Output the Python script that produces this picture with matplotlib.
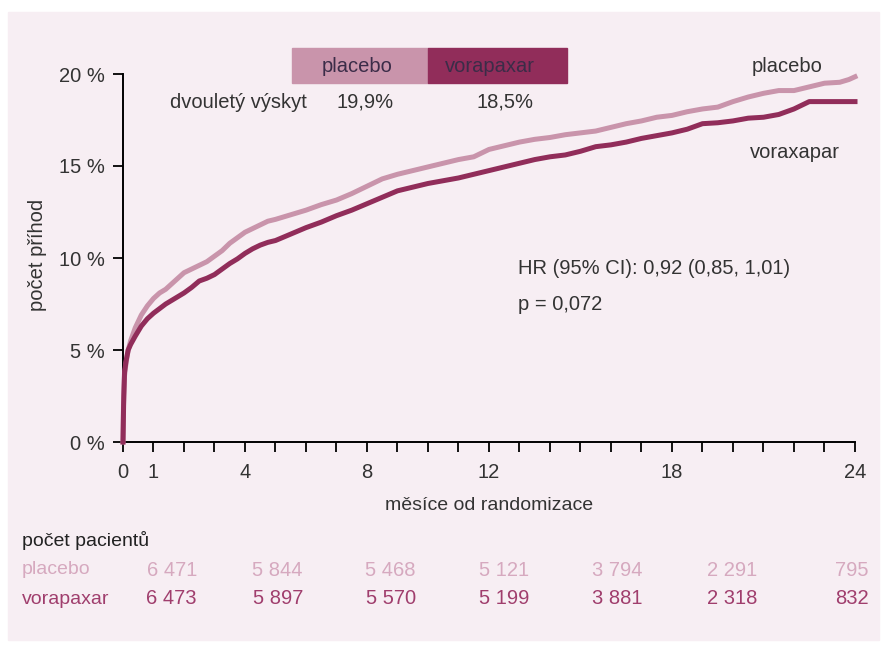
"""
Kaplan-Meier style curves: vorapaxar vs placebo, 24 months.
"""

import matplotlib
matplotlib.use("Agg")
import matplotlib.pyplot as plt
from matplotlib.patches import Rectangle

plt.rcParams["font.family"] = ["Liberation Sans", "DejaVu Sans"]

# --- data --------------------------------------------------------------
months = [0, 0.02, 0.05, 0.1, 0.17, 0.25, 0.4, 0.6, 0.8, 1.0,
          1.2, 1.4, 1.6, 1.8, 2.0, 2.25, 2.5, 2.75, 3.0, 3.25,
          3.5, 3.75, 4.0, 4.25, 4.5, 4.75, 5.0, 5.5, 6.0, 6.5,
          7.0, 7.5, 8.0, 8.5, 9.0, 9.5, 10.0, 10.5, 11.0, 11.5,
          12.0, 12.5, 13.0, 13.5, 14.0, 14.5, 15.0, 15.5, 16.0, 16.5,
          17.0, 17.5, 18.0, 18.5, 19.0, 19.5, 20.0, 20.5, 21.0, 21.5,
          22.0, 22.5, 23.0, 23.5, 23.8, 24.0]

placebo = [0, 2.5, 3.6, 4.3, 5.0, 5.5, 6.2, 6.9, 7.4, 7.8,
           8.1, 8.3, 8.6, 8.9, 9.2, 9.4, 9.6, 9.8, 10.1, 10.4,
           10.8, 11.1, 11.4, 11.6, 11.8, 12.0, 12.1, 12.35, 12.6, 12.9,
           13.15, 13.5, 13.9, 14.3, 14.55, 14.75, 14.95, 15.15, 15.35, 15.5,
           15.9, 16.1, 16.3, 16.45, 16.55, 16.7, 16.8, 16.9, 17.1, 17.3,
           17.45, 17.65, 17.75, 17.95, 18.1, 18.2, 18.5, 18.75, 18.95, 19.1,
           19.1, 19.3, 19.5, 19.55, 19.7, 19.85]

vorapaxar = [0, 2.0, 3.8, 4.4, 5.0, 5.3, 5.75, 6.3, 6.7, 7.0,
             7.25, 7.5, 7.7, 7.9, 8.1, 8.4, 8.75, 8.9, 9.1, 9.4,
             9.7, 9.95, 10.25, 10.5, 10.7, 10.85, 10.95, 11.3, 11.65, 11.95,
             12.3, 12.6, 12.95, 13.3, 13.65, 13.85, 14.05, 14.2, 14.35, 14.55,
             14.75, 14.95, 15.15, 15.35, 15.5, 15.6, 15.8, 16.05, 16.15, 16.3,
             16.5, 16.65, 16.8, 17.0, 17.3, 17.35, 17.45, 17.6, 17.65, 17.8,
             18.1, 18.5, 18.5, 18.5, 18.5, 18.5]

xtick_labels = [0, 1, 4, 8, 12, 18, 24]
ytick_values = [0, 5, 10, 15, 20]

two_year = {"placebo": "19,9%", "vorapaxar": "18,5%"}

at_risk_placebo = ["6 471", "5 844", "5 468", "5 121", "3 794", "2 291", "795"]
at_risk_vorapaxar = ["6 473", "5 897", "5 570", "5 199", "3 881", "2 318", "832"]

# --- styling -----------------------------------------------------------
BG = "#f7eef3"
C_PLA = "#c994ab"
C_VOR = "#912d5a"
TXT = "#333333"
LEG_TXT = "#3b2c48"
FS = 14.5

W, H = 887, 646
fig = plt.figure(figsize=(W / 100, H / 100), dpi=100, facecolor="white")


def fx(px):
    return px / W


def fy(py):
    return 1 - py / H


fig.patches.append(Rectangle((fx(8), fy(640)), fx(871), 628 / H,
                             transform=fig.transFigure, color=BG, zorder=-10))

ax = fig.add_axes([fx(123), fy(442), fx(855 - 123), (442 - 74) / H])
ax.set_facecolor("none")

ax.plot(months, placebo, color=C_PLA, lw=3.6, clip_on=False, zorder=3)
ax.plot(months, vorapaxar, color=C_VOR, lw=3.6, clip_on=False, zorder=4)

ax.set_xlim(0, 24)
ax.set_ylim(0, 20)
for s in ("top", "right"):
    ax.spines[s].set_visible(False)
for s in ("left", "bottom"):
    ax.spines[s].set_linewidth(1.4)
    ax.spines[s].set_color("black")

ax.set_xticks(range(0, 25))
ax.set_xticklabels([str(m) if m in xtick_labels else "" for m in range(25)])
ax.set_yticks(ytick_values)
ax.set_yticklabels([f"{v} %" for v in ytick_values])
ax.tick_params(axis="both", direction="out", length=7, width=1.3,
               colors="black", labelcolor=TXT, labelsize=FS)
ax.tick_params(axis="x", pad=8)
ax.tick_params(axis="y", pad=6)

fig.text(fx(38), fy(255), "počet příhod", rotation=90, ha="center",
         va="center", fontsize=FS, color=TXT)
fig.text(fx(489), fy(506), "měsíce od randomizace", ha="center",
         va="center", fontsize=14, color=TXT)

# legend boxes at top
fig.patches.append(Rectangle((fx(292), fy(83)), fx(136), 35 / H,
                             transform=fig.transFigure, color=C_PLA, zorder=1))
fig.patches.append(Rectangle((fx(428), fy(83)), fx(139), 35 / H,
                             transform=fig.transFigure, color=C_VOR, zorder=1))
fig.text(fx(357), fy(67), "placebo", ha="center", va="center",
         fontsize=FS, color=LEG_TXT)
fig.text(fx(490), fy(67), "vorapaxar", ha="center", va="center",
         fontsize=FS, color=LEG_TXT)
fig.text(fx(170), fy(102), "dvouletý výskyt", ha="left", va="center",
         fontsize=FS, color=TXT)
fig.text(fx(365), fy(102), two_year["placebo"], ha="center", va="center",
         fontsize=FS, color=TXT)
fig.text(fx(505), fy(102), two_year["vorapaxar"], ha="center", va="center",
         fontsize=FS, color=TXT)

# curve labels and stats
fig.text(fx(752), fy(66), "placebo", ha="left", va="center",
         fontsize=FS, color=TXT)
fig.text(fx(750), fy(152), "voraxapar", ha="left", va="center",
         fontsize=FS, color=TXT)
fig.text(fx(518), fy(268), "HR (95% CI): 0,92 (0,85, 1,01)", ha="left",
         va="center", fontsize=FS, color=TXT)
fig.text(fx(518), fy(305), "p = 0,072", ha="left", va="center",
         fontsize=FS, color=TXT)

# patients at risk table
fig.text(fx(22), fy(541), "počet pacientů", ha="left", va="center",
         fontsize=14, color="#222222")
col_right = [197, 303, 416, 529, 642, 757, 869]
rows = [("placebo", at_risk_placebo, "#d6a9bf", 570),
        ("vorapaxar", at_risk_vorapaxar, "#a03e6d", 599)]
for name, vals, col, ypx in rows:
    fig.text(fx(22), fy(ypx), name, ha="left", va="center",
             fontsize=14, color=col)
    for xr, v in zip(col_right, vals):
        fig.text(fx(xr), fy(ypx), v, ha="right", va="center",
                 fontsize=FS, color=col)

fig.savefig("out.png", dpi=100, facecolor="white")
